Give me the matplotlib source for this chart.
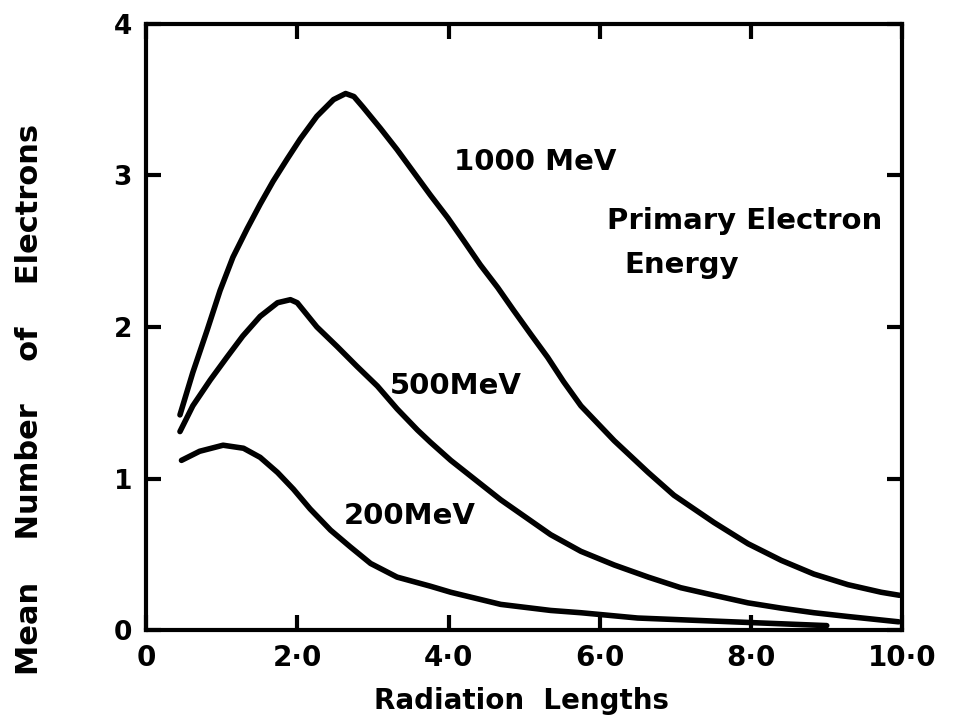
import matplotlib
matplotlib.use("Agg")
import matplotlib.pyplot as plt

# mean number of shower electrons vs depth
x_1000 = [0.45, 0.62, 0.81, 0.98, 1.15, 1.34, 1.51, 1.68, 1.87, 2.04, 2.26, 2.48, 2.64, 2.75,
          2.87, 3.10, 3.32, 3.54, 3.76, 3.99, 4.20, 4.42, 4.65, 4.86, 5.09, 5.31, 5.52, 5.75,
          6.19, 6.64, 6.98, 7.51, 7.96, 8.40, 8.83, 9.28, 9.72, 9.96]
y_1000 = [1.42, 1.70, 1.98, 2.24, 2.46, 2.65, 2.81, 2.96, 3.11, 3.24, 3.39, 3.50, 3.54, 3.52,
          3.45, 3.31, 3.17, 3.02, 2.87, 2.72, 2.57, 2.41, 2.26, 2.11, 1.95, 1.80, 1.64, 1.48,
          1.25, 1.04, 0.89, 0.71, 0.57, 0.46, 0.37, 0.30, 0.25, 0.23]

x_500 = [0.45, 0.62, 0.85, 1.07, 1.28, 1.51, 1.74, 1.91, 2.0, 2.26, 2.53, 2.79, 3.06, 3.32,
         3.59, 3.76, 4.03, 4.69, 5.35, 5.75, 6.19, 6.64, 7.07, 7.51, 7.96, 8.40, 8.83, 9.28,
         9.95]
y_500 = [1.31, 1.48, 1.65, 1.80, 1.94, 2.07, 2.16, 2.18, 2.16, 2.0, 1.87, 1.74, 1.61, 1.46,
         1.32, 1.24, 1.12, 0.86, 0.63, 0.52, 0.43, 0.35, 0.28, 0.23, 0.18, 0.145, 0.115, 0.09,
         0.055]

x_200 = [0.47, 0.71, 1.02, 1.29, 1.51, 1.74, 1.95, 2.17, 2.44, 2.70, 2.97, 3.32, 3.76, 4.03,
         4.69, 5.35, 5.75, 6.5, 7.5, 8.5, 9.0]
y_200 = [1.12, 1.18, 1.22, 1.20, 1.14, 1.04, 0.93, 0.80, 0.66, 0.55, 0.44, 0.35, 0.29, 0.25,
         0.17, 0.13, 0.115, 0.08, 0.06, 0.04, 0.03]

xticks = [0, 2, 4, 6, 8, 10]
xticklabels = ['0', '2·0', '4·0', '6·0', '8·0', '10·0']
yticks = [0, 1, 2, 3, 4]

plt.rcParams['font.family'] = 'DejaVu Sans'
plt.rcParams['font.weight'] = 'bold'

fig = plt.figure(figsize=(9.6, 7.21), dpi=100)
ax = fig.add_axes([0.152, 0.126, 0.788, 0.841])

for xs, ys in [(x_1000, y_1000), (x_500, y_500), (x_200, y_200)]:
    ax.plot(xs, ys, color='black', lw=4, solid_capstyle='round', solid_joinstyle='round')

ax.set_xlim(0, 10)
ax.set_ylim(0, 4)
ax.set_xticks(xticks)
ax.set_xticklabels(xticklabels)
ax.set_yticks(yticks)
ax.set_yticklabels([str(v) for v in yticks])
ax.tick_params(direction='in', length=11, width=3, top=True, right=True, pad=10)
ax.tick_params(axis='x', labelsize=20)
ax.tick_params(axis='y', labelsize=19)
for s in ax.spines.values():
    s.set_linewidth(3)

lbl = dict(fontsize=21, fontweight='bold', va='center')
ax.text(4.07, 3.09, '1000 MeV', **lbl)
ax.text(3.23, 1.61, '500MeV', **lbl)
ax.text(2.61, 0.75, '200MeV', **lbl)
ax.text(6.1, 2.70, 'Primary Electron', **lbl)
ax.text(6.32, 2.41, 'Energy', **lbl)

ax.set_xlabel('Radiation  Lengths', fontsize=20, fontweight='bold')
ax.xaxis.set_label_coords(0.497, -0.094)
ax.set_ylabel('Mean    Number    of    Electrons', fontsize=22, fontweight='bold')
ax.yaxis.set_label_coords(-0.135, 0.38)

fig.savefig('out.png', dpi=100)
